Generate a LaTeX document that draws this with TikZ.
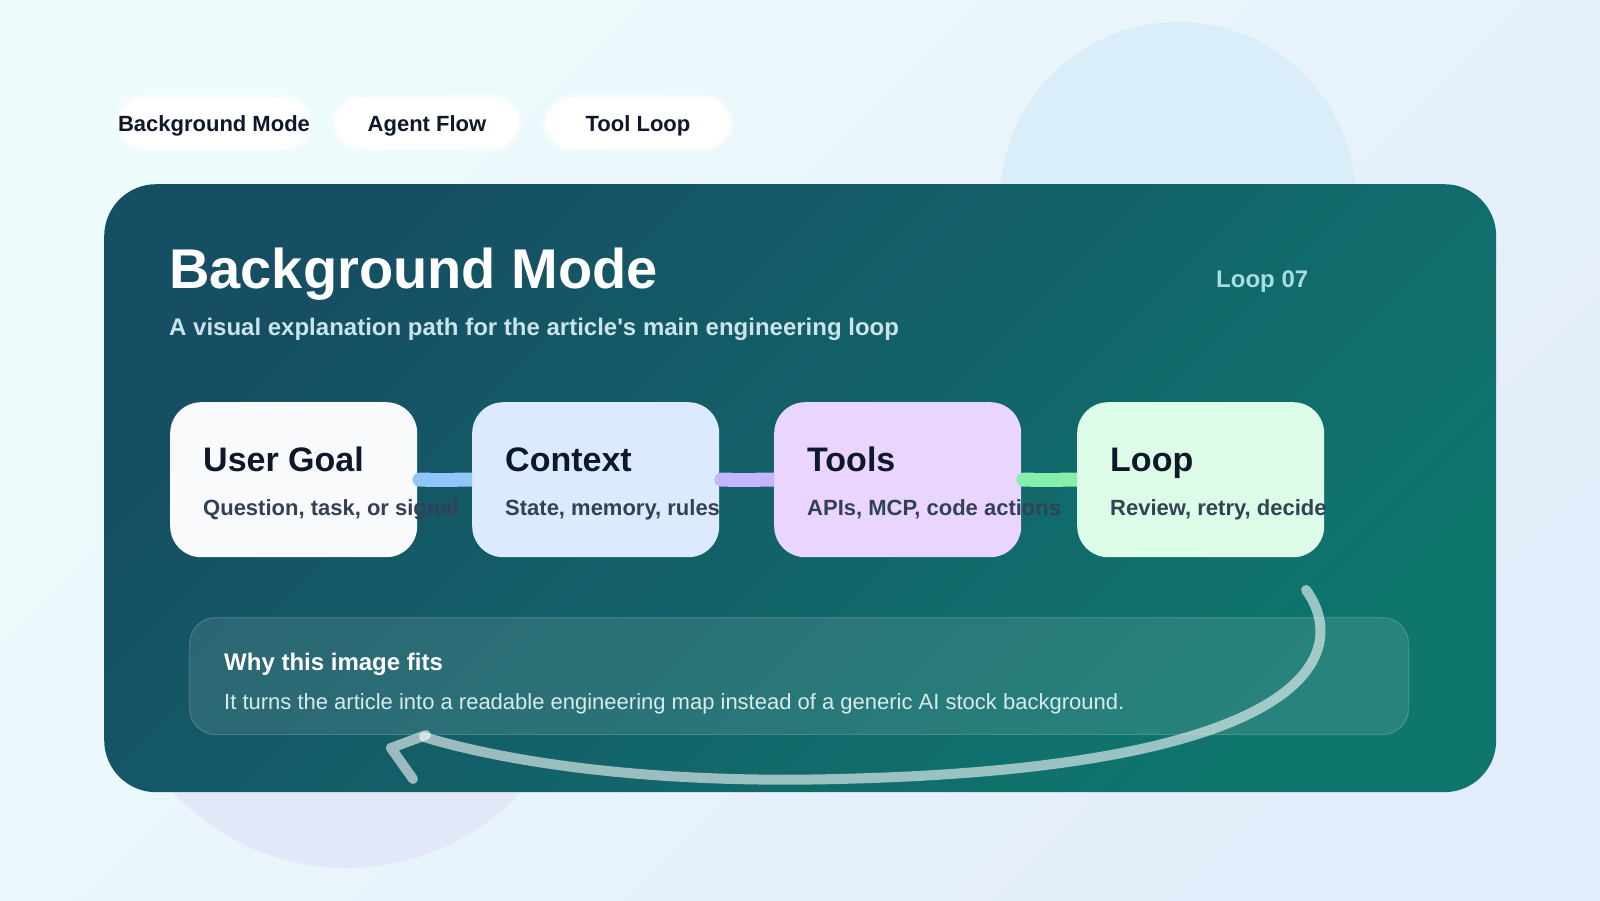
\documentclass[tikz,border=0pt]{standalone}
\usepackage{fontspec}
\setmainfont{Liberation Sans}[Ligatures=TeXOff]
\usetikzlibrary{arrows.meta}
\definecolor{bgA}{HTML}{EEFCFC}
\definecolor{bgB}{HTML}{E3ECFA}
\definecolor{circA}{HTML}{D9EEF8}
\definecolor{circB}{HTML}{E2E8F8}
\definecolor{panA}{HTML}{164E63}
\definecolor{panB}{HTML}{0F766E}
\definecolor{ink}{HTML}{0F172A}
\definecolor{slate}{HTML}{334155}
\definecolor{subt}{HTML}{CBE4EA}
\definecolor{loopc}{HTML}{A9DDE4}
\definecolor{cardA}{HTML}{F8FAFC}
\definecolor{cardB}{HTML}{DBEAFE}
\definecolor{cardC}{HTML}{E9D5FF}
\definecolor{cardD}{HTML}{DCFCE7}
\definecolor{connA}{HTML}{93C5FD}
\definecolor{connB}{HTML}{C4B5FD}
\definecolor{connC}{HTML}{86EFAC}
\definecolor{bodyc}{HTML}{D6ECEC}
\newcommand\myfs[1]{\fontsize{#1}{#1}\selectfont}
\begin{document}
\begin{tikzpicture}[x=1pt,y=-1pt,
  pill/.style={fill=white, rounded corners=27pt, minimum width=184pt, minimum height=50pt, inner sep=0pt, text height=16pt, text depth=0pt, font=\bfseries\myfs{22}, text=ink,
    preaction={draw=white, draw opacity=0.25, line width=10pt},
    preaction={draw=white, draw opacity=0.45, line width=5pt}},
  card/.style={rounded corners=31pt, minimum width=247pt, minimum height=155pt, anchor=north west, inner sep=0pt},
  ctitle/.style={anchor=base west, inner sep=0pt, font=\bfseries\myfs{34}, text=ink},
  csub/.style={anchor=base west, inner sep=0pt, font=\bfseries\myfs{22}, text=slate},
  conn/.style={line width=14pt, {Round Cap[]}-{Butt Cap[]}},
  loopline/.style={line width=10pt, draw=white, draw opacity=0.58, line cap=round, line join=round},
  plain/.style={anchor=base west, inner sep=0pt},
]
\useasboundingbox (0,0) rectangle (1600,900);
\shade[top color=bgA, bottom color=bgB, shading angle=45] (0,0) rectangle (1600,900);
\fill[circA] (1178,200) circle (178);
\fill[circB] (347,631) circle (237);

\node[pill] (p1) at (214,123) {Background Mode};
\node[pill] (p2) at (427,123) {Agent Flow};
\node[pill] (p3) at (638,123) {Tool Loop};

\node[rounded corners=52pt, minimum width=1392pt, minimum height=608pt, anchor=north west, inner sep=0pt,
  top color=panA, bottom color=panB, shading angle=45] (panel) at (104,184) {};

\node[plain, font=\bfseries\myfs{56}, text=white] (title) at (169,288) {Background Mode};
\node[plain, font=\bfseries\myfs{24}, text=subt] (subtitle) at (169,335) {A visual explanation path for the article's main engineering loop};
\node[plain, font=\bfseries\myfs{24}, text=loopc] (loopno) at (1216,287) {Loop 07};

\node[card, fill=cardA] (c1) at (170,402) {};
\node[card, fill=cardB] (c2) at (472,402) {};
\node[card, fill=cardC] (c3) at (774,402) {};
\node[card, fill=cardD] (c4) at (1077,402) {};

\draw[conn, draw=connA] ([xshift=-5pt]c1.east) -- (c2.west);
\draw[conn, draw=connB] ([xshift=-5pt]c2.east) -- (c3.west);
\draw[conn, draw=connC] ([xshift=-5pt]c3.east) -- (c4.west);

\node[ctitle] (t1) at ([shift={(33,69)}]c1.north west) {User Goal};
\node[csub] (s1) at ([shift={(33,113)}]c1.north west) {Question, task, or signal};
\node[ctitle] (t2) at ([shift={(33,69)}]c2.north west) {Context};
\node[csub] (s2) at ([shift={(33,113)}]c2.north west) {State, memory, rules};
\node[ctitle] (t3) at ([shift={(33,69)}]c3.north west) {Tools};
\node[csub] (s3) at ([shift={(33,113)}]c3.north west) {APIs, MCP, code actions};
\node[ctitle] (t4) at ([shift={(33,69)}]c4.north west) {Loop};
\node[csub] (s4) at ([shift={(33,113)}]c4.north west) {Review, retry, decide};

\node[draw=white, draw opacity=0.16, fill=white, fill opacity=0.1, line width=1.2pt, rounded corners=26pt,
  minimum width=1219pt, minimum height=117pt, anchor=north west, inner sep=0pt] (why) at (189,617) {};
\node[plain, font=\bfseries\myfs{24}, text=white] (whyt) at (224,670) {Why this image fits};
\node[plain, font=\myfs{22}, text=bodyc] (whyb) at (224,709) {It turns the article into a readable engineering map instead of a generic AI stock background.};

\coordinate (ls) at (1306,590);
\coordinate (lm) at (837,779);
\coordinate (le) at (424,737);
\draw[loopline] (ls) .. controls (1350,650) and (1320,768) .. (lm) .. controls (640,784) and (500,760) .. (le);
\coordinate (ha) at (426,735);
\coordinate (ht) at (391,748);
\coordinate (hb) at (413,779);
\draw[loopline] (ha) -- (ht) -- (hb);
\end{tikzpicture}
\end{document}
